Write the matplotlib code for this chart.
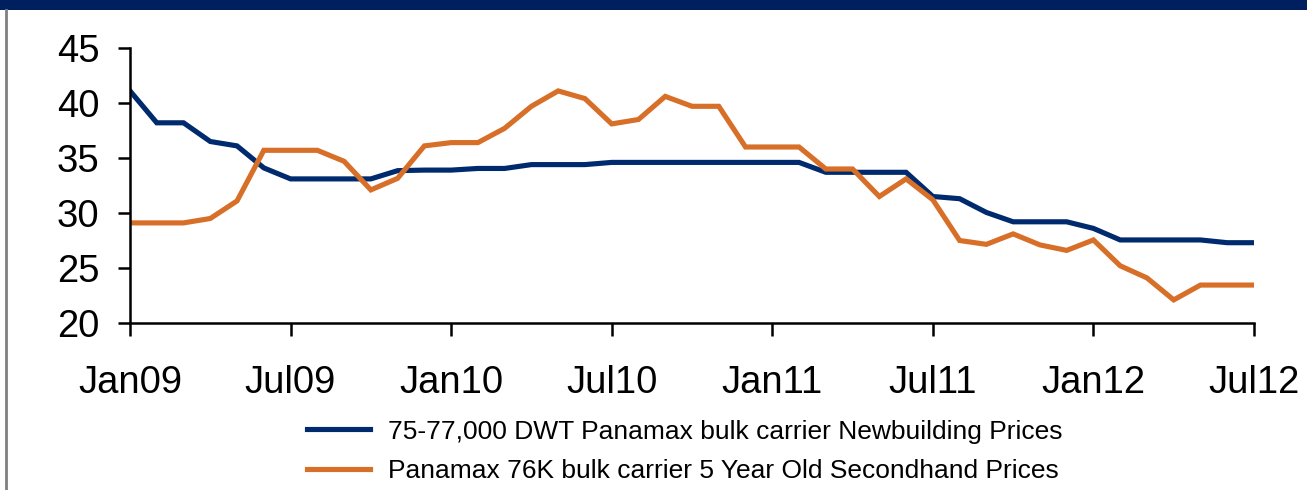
import matplotlib
matplotlib.use("Agg")
import matplotlib.pyplot as plt
from matplotlib.lines import Line2D
from matplotlib.patches import Rectangle

plt.rcParams['font.family'] = ['Liberation Sans', 'DejaVu Sans']

# Monthly prices (US$ million), Jan 2009 - Jul 2012
months = list(range(43))
newbuilding = [41.1, 38.2, 38.2, 36.5, 36.1, 34.1, 33.1, 33.1, 33.1, 33.1,
               33.85, 33.9, 33.9, 34.05, 34.05, 34.4, 34.4, 34.4, 34.6, 34.6,
               34.6, 34.6, 34.6, 34.6, 34.6, 34.6, 33.7, 33.7, 33.7, 33.7,
               31.5, 31.3, 30.05, 29.2, 29.2, 29.2, 28.6, 27.55, 27.55, 27.55,
               27.55, 27.3, 27.3]
secondhand = [29.1, 29.1, 29.1, 29.5, 31.1, 35.7, 35.7, 35.7, 34.7, 32.1,
              33.15, 36.1, 36.4, 36.4, 37.7, 39.7, 41.1, 40.4, 38.1, 38.5,
              40.6, 39.7, 39.7, 36.0, 36.0, 36.0, 34.0, 34.0, 31.5, 33.1,
              31.2, 27.5, 27.15, 28.1, 27.1, 26.6, 27.55, 25.2, 24.1, 22.1,
              23.45, 23.45, 23.45]
tick_months = [0, 6, 12, 18, 24, 30, 36, 42]
tick_labels = ['Jan09', 'Jul09', 'Jan10', 'Jul10', 'Jan11', 'Jul11', 'Jan12', 'Jul12']
y_ticks = [20, 25, 30, 35, 40, 45]
series_names = ['75-77,000 DWT Panamax bulk carrier Newbuilding Prices',
                'Panamax 76K bulk carrier 5 Year Old Secondhand Prices']

NAVY = '#002a6e'
ORANGE = '#d76f28'

fig = plt.figure(figsize=(13.07, 4.90), dpi=100)

# header band and left frame line
fig.add_artist(Rectangle((0, 1 - 10 / 490), 1, 10 / 490, transform=fig.transFigure,
                         color='#001f5f', lw=0, zorder=0))
fig.add_artist(Line2D([6 / 1307, 6 / 1307], [0, 1 - 10 / 490], transform=fig.transFigure,
                      color='#808080', lw=2))

ax = fig.add_axes([130 / 1307, 167 / 490, 1124 / 1307, 275 / 490])
l1, = ax.plot(months, newbuilding, color=NAVY, lw=3.7, solid_joinstyle='miter')
l2, = ax.plot(months, secondhand, color=ORANGE, lw=3.7, solid_joinstyle='miter')

ax.set_xlim(0, 42)
ax.set_ylim(20, 45)
ax.set_yticks(y_ticks)
ax.set_xticks(tick_months)
ax.set_xticklabels(tick_labels)
ax.spines['top'].set_visible(False)
ax.spines['right'].set_visible(False)
for s in ('left', 'bottom'):
    ax.spines[s].set_linewidth(1.8)
    ax.spines[s].set_color('black')
ax.tick_params(axis='y', direction='out', length=9, width=1.8, labelsize=27.5, pad=13)
ax.tick_params(axis='x', direction='out', length=9, width=1.8, labelsize=27.5, pad=21)
ax.patch.set_alpha(0)

fig.legend([l1, l2], series_names, loc='upper left',
           bbox_to_anchor=(296 / 1307, 1 - 409 / 490), frameon=False,
           fontsize=19, handlelength=2.4, handletextpad=0.7, labelspacing=0.6,
           borderaxespad=0)

fig.savefig('out.png', dpi=100)
